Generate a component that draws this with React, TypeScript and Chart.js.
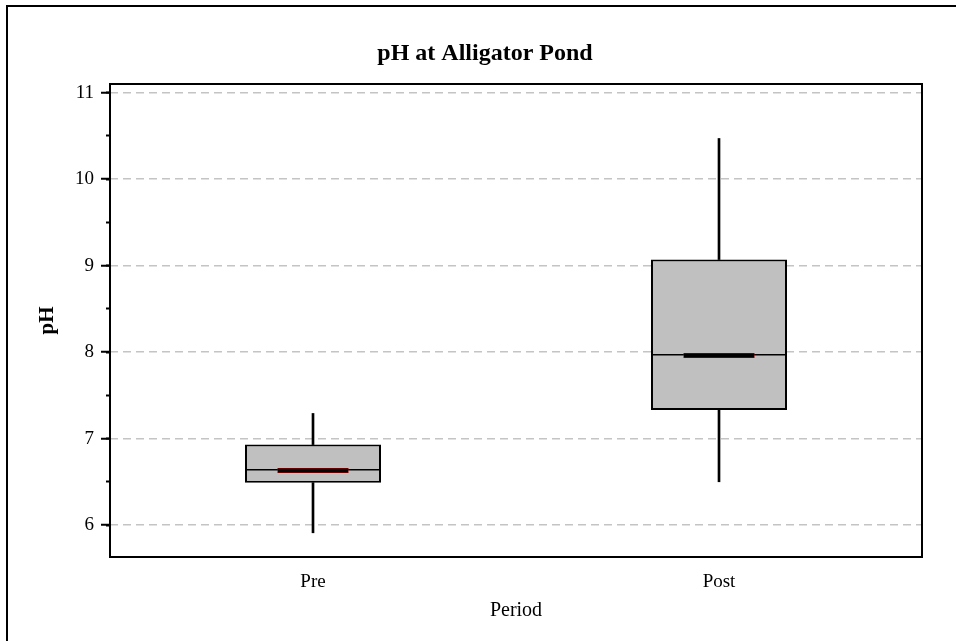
import React, { useEffect, useRef } from "react";
import { Chart, registerables } from "chart.js";

Chart.register(...registerables);

const categories = ["Pre", "Post"];
const whiskerMin = [5.91, 6.5];
const q1 = [6.49, 7.33];
const median = [6.64, 7.97];
const q3 = [6.93, 9.07];
const whiskerMax = [7.29, 10.47];
const mean = [6.63, 7.96];

const titleText = "pH at Alligator Pond";
const xTitle = "Period";
const yTitle = "pH";
const yMin = 5.63;
const yMax = 11.1;

const FONT = "'Liberation Serif', 'Times New Roman', serif";

const framePlugin = {
  id: "frame",
  afterDraw(chart: any) {
    const { ctx, chartArea } = chart;
    ctx.save();
    ctx.strokeStyle = "#000";
    ctx.lineWidth = 2;
    ctx.strokeRect(7, 6, 1200, 1200);
    ctx.strokeRect(chartArea.left, chartArea.top, chartArea.right - chartArea.left, chartArea.bottom - chartArea.top);
    ctx.fillStyle = "#000";
    ctx.font = `bold 24px ${FONT}`;
    ctx.textAlign = "center";
    ctx.textBaseline = "middle";
    ctx.fillText(titleText, 485, 54);
    ctx.restore();
  },
};

export default function App() {
  const ref = useRef<HTMLCanvasElement | null>(null);
  useEffect(() => {
    if (!ref.current) return;
    const chart = new Chart(ref.current, {
      type: "bar",
      data: {
        labels: categories,
        datasets: [
          {
            type: "line",
            data: mean,
            showLine: false,
            pointStyle: "line",
            pointRadius: 35,
            pointBorderWidth: 3.5,
            pointBorderColor: "#000",
            pointBackgroundColor: "#000",
          } as any,
          {
            type: "line",
            data: mean,
            showLine: false,
            pointStyle: "line",
            pointRadius: 35.5,
            pointBorderWidth: 5,
            pointBorderColor: "#8b0000",
            pointBackgroundColor: "#8b0000",
          } as any,
          {
            type: "line",
            data: median,
            showLine: false,
            pointStyle: "line",
            pointRadius: 67,
            pointBorderWidth: 1.5,
            pointBorderColor: "#000",
          } as any,
          {
            type: "bar",
            data: categories.map((_, i) => [q1[i], q3[i]]),
            backgroundColor: "#c0c0c0",
            borderColor: "#000",
            borderWidth: 2,
            borderSkipped: false,
            barPercentage: 0.335,
            categoryPercentage: 1,
            grouped: false,
          } as any,
          {
            type: "bar",
            data: categories.map((_, i) => [q3[i], whiskerMax[i]]),
            backgroundColor: "#000",
            borderWidth: 0,
            barThickness: 2,
            grouped: false,
          } as any,
          {
            type: "bar",
            data: categories.map((_, i) => [whiskerMin[i], q1[i]]),
            backgroundColor: "#000",
            borderWidth: 0,
            barThickness: 2,
            grouped: false,
          } as any,
        ],
      },
      options: {
        responsive: false,
        animation: false,
        layout: { autoPadding: false, padding: { top: 84, right: 34, left: 0, bottom: 0 } },
        plugins: {
          legend: { display: false },
          tooltip: { enabled: false },
          title: { display: false },
        },
        scales: {
          x: {
            type: "category",
            offset: true,
            border: { display: false },
            grid: { display: true, drawOnChartArea: false, drawTicks: false },
            ticks: { color: "#000", font: { family: FONT, size: 19 }, padding: 14 },
            title: {
              display: true,
              text: xTitle,
              color: "#000",
              font: { family: FONT, size: 20 },
              padding: { top: 0, bottom: 18 },
            },
            afterFit: (s: any) => {
              s.height = 84;
              s.paddingLeft = 0;
              s.paddingRight = 0;
            },
          },
          y: {
            type: "linear",
            position: "left",
            weight: 1,
            min: yMin,
            max: yMax,
            border: { display: false, dash: [8, 5] },
            grid: {
              color: "#c4c4c4",
              lineWidth: 1.5,
              tickColor: "#000",
              tickLength: 9,
              tickWidth: 2,
              tickBorderDash: [],
            },
            ticks: {
              stepSize: 1,
              includeBounds: false,
              color: "#000",
              font: { family: FONT, size: 19 },
              padding: 7,
            },
            title: {
              display: true,
              text: yTitle,
              color: "#000",
              font: { family: FONT, size: 21, weight: "bold" },
              padding: { top: 35, bottom: 0 },
            },
            afterFit: (s: any) => {
              s.width = 110;
            },
          },
          yMinor: {
            type: "linear",
            position: "left",
            weight: 0,
            min: yMin,
            max: yMax,
            border: { display: false },
            grid: {
              drawOnChartArea: false,
              tickColor: "#000",
              tickLength: 4,
              tickWidth: 2,
            },
            ticks: { stepSize: 0.5, includeBounds: false, display: false },
            afterFit: (s: any) => {
              s.width = 0;
            },
          },
        },
      } as any,
      plugins: [framePlugin],
    });
    return () => chart.destroy();
  }, []);
  return (
    <div style={{ position: "absolute", left: 0, top: 0, width: 956, height: 641, background: "#fff" }}>
      <canvas ref={ref} width={956} height={641} style={{ display: "block" }} />
    </div>
  );
}
